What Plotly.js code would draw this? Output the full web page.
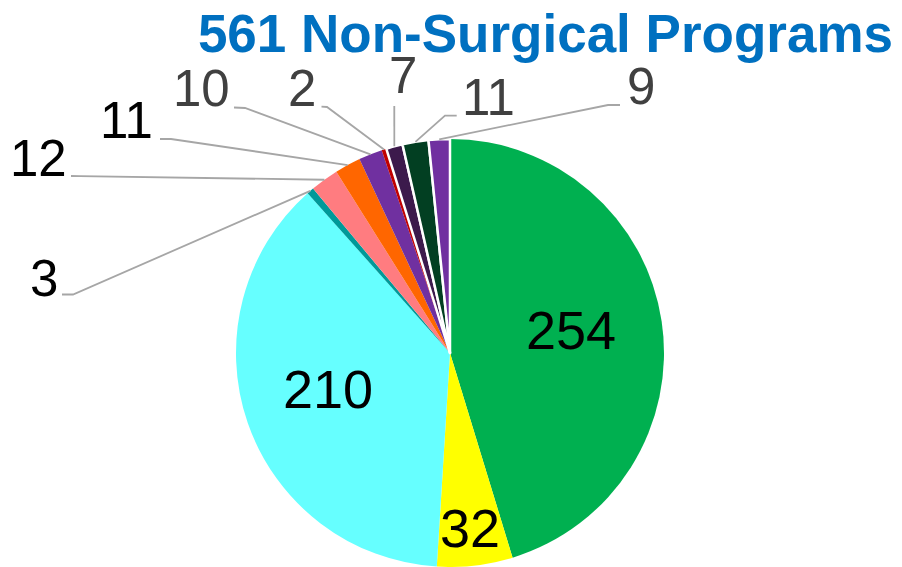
<!DOCTYPE html>
<html><head><meta charset="utf-8">
<script src="https://cdn.plot.ly/plotly-3.0.1.min.js"></script>
<style>html,body{margin:0;padding:0;background:#fff}#chart{width:902px;height:567px}</style>
</head><body><div id="chart"></div>
<script>
// ---------- data ----------
const titleText = '561 Non-Surgical Programs';
const sliceNames = ['Group 1','Group 2','Group 3','Group 4','Group 5','Group 6','Group 7','Group 8','Group 9','Group 10','Group 11'];
const programCounts = [254, 32, 210, 3, 12, 11, 10, 2, 7, 11, 9];

// ---------- styles ----------
const sliceColors = ['#00B050','#FFFF00','#66FFFF','#009999','#FF7C80','#FF6600','#7030A0','#C00000','#3C1A4C','#023F22','#7030A0'];
const sliceBorder = [0,0,0,0,0,0,0,0,2.5,2.5,2.5];
const labelColors = ['#000000','#000000','#000000','#000000','#000000','#000000','#404040','#404040','#404040','#404040','#404040'];
const labelSizes  = [54,54,54,51,51,51,51,51,51,51,51];

// ---------- layout positions (pixels) ----------
const W = 902, H = 567;
const cx = 450, cy = 353, R = 214;
const labelPos = [[570.7,330],[470,527.5],[327.5,389],[43.5,278.5],[38.5,158.3],[126.5,120.3],[201,89],[302,88.3],[402.5,75],[488,97.5],[641,86.7]];
// leader line start point and elbow point (null = no leader)
const leaderStart = [null,null,null,
  [62,294.5,73,294.5],
  [71,176,80,176.2],
  [160,139,171,139],
  [234,107.5,245,108],
  [321.5,106.7,327,107],
  [394.3,106,394.3,106],
  [456.7,115.7,445,115.7],
  [620,105,608,105]];

const px = x => x / W;
const py = y => 1 - y / H;

const total = programCounts.reduce((a,b)=>a+b,0);
const annotations = [];
const shapes = [];
let cum = 0;
programCounts.forEach((v,i)=>{
  const th = (cum + v/2) / total * 2 * Math.PI;
  cum += v;
  annotations.push({
    xref:'paper', yref:'paper', x: px(labelPos[i][0]), y: py(labelPos[i][1]),
    xanchor:'center', yanchor:'middle', showarrow:false,
    text: String(v),
    font:{family:'Liberation Sans, Arial, sans-serif', size: labelSizes[i], color: labelColors[i]}
  });
  if (leaderStart[i]) {
    const ex = cx + R*Math.sin(th), ey = cy - R*Math.cos(th);
    const s = leaderStart[i];
    shapes.push({
      type:'path', xref:'paper', yref:'paper',
      path: `M ${px(s[0])} ${py(s[1])} L ${px(s[2])} ${py(s[3])} L ${px(ex)} ${py(ey)}`,
      line:{color:'#A6A6A6', width:1.8}
    });
  }
});

const trace = {
  type:'pie',
  labels: sliceNames,
  values: programCounts,
  sort:false,
  direction:'clockwise',
  rotation:0,
  textinfo:'none',
  hoverinfo:'label+value',
  marker:{colors: sliceColors, line:{color:'#FFFFFF', width: sliceBorder}},
  domain:{x:[(cx-R)/W,(cx+R)/W], y:[(H-cy-R)/H,(H-cy+R)/H]}
};

const layout = {
  width: W, height: H,
  margin:{l:0,r:0,t:0,b:0},
  paper_bgcolor:'#FFFFFF',
  showlegend:false,
  title:{
    text: titleText,
    font:{family:'Liberation Sans, Arial, sans-serif', size:53, color:'#0070C0', weight:'bold'},
    xref:'paper', x: 893/W, xanchor:'right',
    yref:'container', y: 1 - 33/H, yanchor:'middle'
  },
  annotations, shapes
};

Plotly.newPlot('chart', [trace], layout, {displayModeBar:false, staticPlot:true});
</script>
</body></html>
